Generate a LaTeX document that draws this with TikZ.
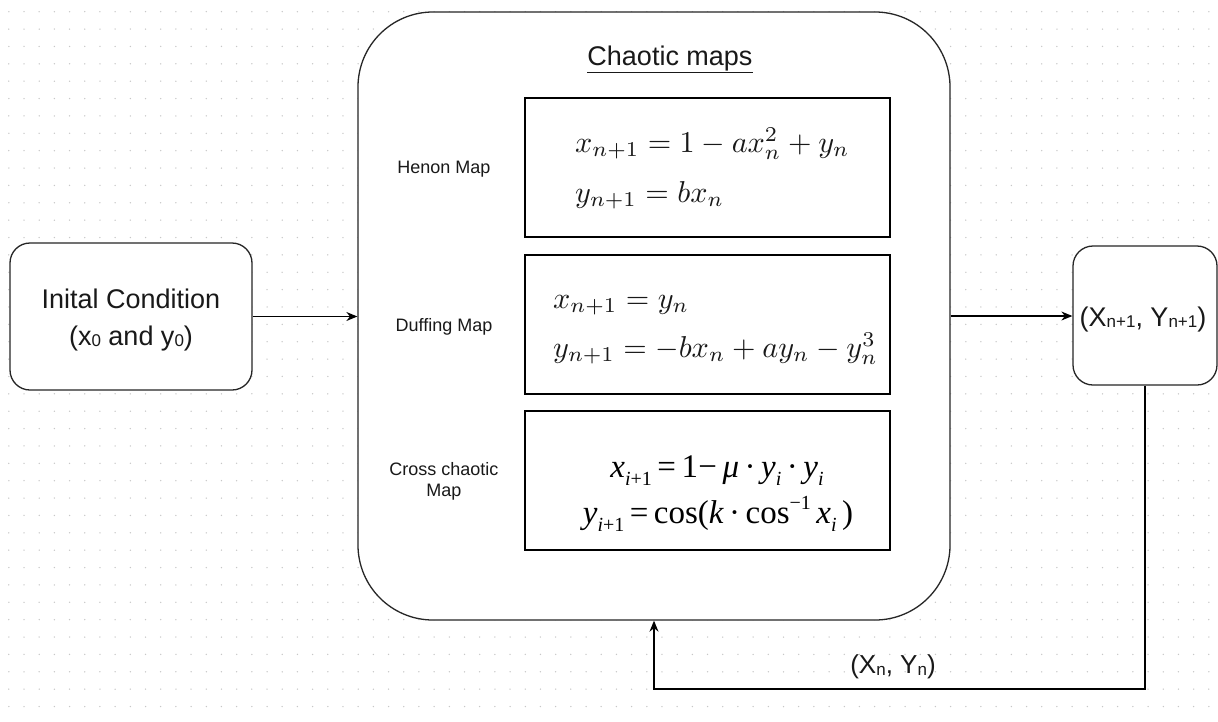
\documentclass[tikz,border=0pt]{standalone}
\usepackage{graphicx}
\usepackage[no-math]{fontspec}
\setmainfont{Liberation Sans}
\newfontfamily\timesf{Liberation Serif}
\usetikzlibrary{arrows.meta}
\newcommand\ti[1]{{\itshape #1}}
\newcommand\tsub[1]{\raisebox{-0.25em}{\fontsize{20}{20}\selectfont #1}}
\newcommand\tsup[1]{\raisebox{0.4em}{\fontsize{20}{20}\selectfont #1}}
\newcommand\lsub[1]{\raisebox{-1.5pt}{\fontsize{17}{17}\selectfont #1}}
\newcommand\bigmath[1]{\scalebox{3.02}{\normalsize$#1$}}
\tikzset{
  frame/.style={draw=black!85, line width=1.3pt, fill=white, inner sep=0pt},
  eqbox/.style={draw=black, line width=1.3pt, fill=white, inner sep=0pt,
    minimum width=365pt, minimum height=139pt},
  arr/.style={draw=black, line width=1.2pt, -{Stealth[length=11pt,width=9pt]}},
  lbl/.style={font=\fontsize{18}{21}\selectfont, align=center, text=black!90},
  big/.style={font=\fontsize{27}{37}\selectfont, align=center, text=black!90},
  eqn/.style={anchor=base west, inner sep=0pt, text=black!90},
  teq/.style={font=\timesf\fontsize{33}{40}\selectfont, anchor=base, inner sep=0pt},
  dot/.style={fill=black!22}
}
\begin{document}
\begin{tikzpicture}[x=1pt,y=-1pt]
\useasboundingbox (0,0) rectangle (1218,721);
\fill[white] (0,0) rectangle (1218,721);
% dot grid
\foreach \i in {-1,...,78}{
  \foreach \j in {0,...,40}{
    \fill[dot] ({24+15.19*\i},{11.7+17.37*\j}) circle (0.75pt);
  }
}
% nodes
\node[frame, rounded corners=20pt, minimum width=242pt, minimum height=147pt] (init) at (131,316.5) {};
\node[big] (inittxt) at (131,320) {Inital Condition\\(x\lsub{0} and y\lsub{0})};
\node[frame, rounded corners=75pt, minimum width=592pt, minimum height=608pt] (main) at (654,316) {};
\node[frame, rounded corners=20pt, minimum width=144pt, minimum height=139pt] (out) at (1145,315.5) {};
\node[font=\fontsize{27}{32}\selectfont, text=black!90, anchor=base] (outtxt) at (1143,326) {(X\lsub{n+1}, Y\lsub{n+1})};
\node[font=\fontsize{27}{32}\selectfont, text=black!90, anchor=base] (title) at (670,65) {\underline{Chaotic maps}};
\node[eqbox] (b1) at (707.5,167.5) {};
\node[eqbox] (b2) at (707.5,324.5) {};
\node[eqbox] (b3) at (707.5,480.5) {};
\node[lbl] (l1) at (444,169) {Henon Map};
\node[lbl] (l2) at (444,327) {Duffing Map};
\node[lbl] (l3) at (444,481) {Cross chaotic\\Map};
% equations
\node[eqn] (e11) at (575,152) {\bigmath{x_{n+1} = 1 - ax_n^2 + y_n}};
\node[eqn] (e12) at (575,202) {\bigmath{y_{n+1} = bx_n}};
\node[eqn] (e21) at (553,308) {\bigmath{x_{n+1} = y_n}};
\node[eqn] (e22) at (553,357) {\bigmath{y_{n+1} = -bx_n + ay_n - y_n^3}};
\node[teq] (e31) at (717,477) {\ti{x}\tsub{\ti{i}+1}\,=\,1\kern0.5pt−\,\ti{μ}\,·\,\ti{y}\tsub{\ti{i}}\,·\,\ti{y}\tsub{\ti{i}}};
\node[teq] (e32) at (718,523) {\ti{y}\tsub{\ti{i}+1}\,=\,cos(\ti{k}\,·\,cos\tsup{−1}\,\ti{x}\tsub{\ti{i}}\,)};
% connectors
\draw[arr] (init.east) -- (init.east -| main.west);
\draw[arr] (main.east) -- (main.east -| out.west);
\coordinate (fb) at (1145,689);
\draw[arr] (out.south) -- (out.south |- fb) -| (main.south);
\node[font=\fontsize{26}{30}\selectfont, text=black!90] (fbtxt) at (893,667) {(X\lsub{n}, Y\lsub{n})};
\end{tikzpicture}
\end{document}
